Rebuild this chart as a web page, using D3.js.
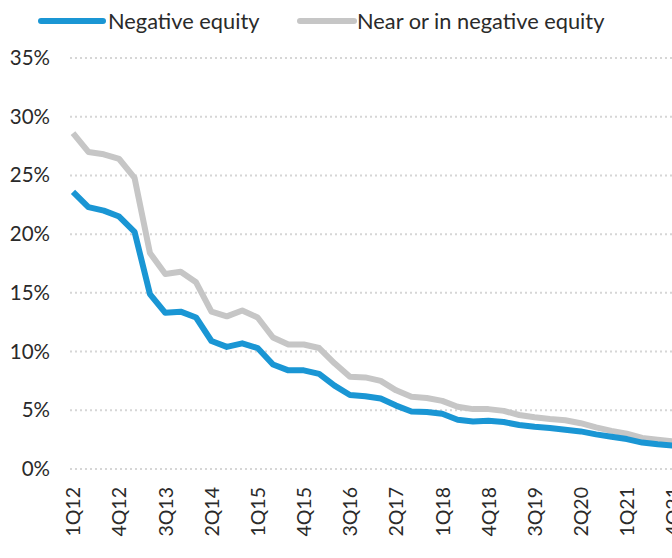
<!DOCTYPE html>
<html>
<head>
<meta charset="utf-8">
<script src="https://cdn.jsdelivr.net/npm/d3@7"></script>
<style>
  html, body { margin: 0; padding: 0; background: #fff; overflow: hidden; }
  svg { display: block; font-family: Lato, "Open Sans", sans-serif; }
</style>
</head>
<body>
<svg id="chart" width="672" height="558"></svg>
<script>
// Quarterly share of mortgaged properties, 1Q12 to 4Q21
const quarters = [];
for (let y = 12; y <= 21; y++) for (let q = 1; q <= 4; q++) quarters.push(q + "Q" + y);

const negativeEquity = [
  23.6, 22.3, 22.0, 21.5, 20.2, 14.9, 13.3, 13.4, 12.9, 10.9,
  10.4, 10.7, 10.3, 8.9, 8.4, 8.4, 8.1, 7.1, 6.3, 6.2,
  6.0, 5.4, 4.9, 4.85, 4.7, 4.2, 4.05, 4.1, 4.0, 3.75,
  3.6, 3.5, 3.35, 3.2, 2.95, 2.75, 2.55, 2.25, 2.1, 2.0
];
const nearOrInNegativeEquity = [
  28.6, 27.0, 26.8, 26.4, 24.8, 18.4, 16.6, 16.8, 15.9, 13.4,
  13.0, 13.5, 12.9, 11.2, 10.6, 10.6, 10.3, 9.0, 7.85, 7.8,
  7.5, 6.7, 6.15, 6.05, 5.8, 5.3, 5.1, 5.1, 4.95, 4.6,
  4.4, 4.25, 4.15, 3.9, 3.55, 3.25, 3.0, 2.65, 2.5, 2.35
];
const yTicks = [0, 5, 10, 15, 20, 25, 30, 35];
const xTickLabels = quarters.filter((d, i) => i % 3 === 0);

const series = [
  { name: "Negative equity", values: negativeEquity, color: "#1a96d4" },
  { name: "Near or in negative equity", values: nearOrInNegativeEquity, color: "#c6c6c6" }
];

const textColor = "#2a2a2a";
const svg = d3.select("#chart");

const x = d3.scalePoint().domain(quarters).range([73, 673]);
const y = d3.scaleLinear().domain([0, 35]).range([469, 58]);

// Dotted horizontal gridlines
svg.append("g")
  .selectAll("line")
  .data(yTicks)
  .join("line")
  .attr("x1", 70).attr("x2", 700)
  .attr("y1", d => y(d)).attr("y2", d => y(d))
  .attr("stroke", "#d6d6d6")
  .attr("stroke-width", 2)
  .attr("stroke-dasharray", "2,3");

// Y axis labels
const yAxis = svg.append("g")
  .attr("transform", "translate(50,0)")
  .call(d3.axisLeft(y).tickValues(yTicks).tickFormat(d => d + "%").tickSize(0).tickPadding(0));
yAxis.select(".domain").remove();
yAxis.selectAll("text")
  .attr("font-family", "Lato, sans-serif")
  .attr("font-size", 20.5)
  .attr("fill", textColor);

// X axis labels (rotated)
const xAxis = svg.append("g")
  .attr("transform", "translate(0,487)")
  .call(d3.axisBottom(x).tickValues(xTickLabels).tickSize(0).tickPadding(0));
xAxis.select(".domain").remove();
xAxis.selectAll("text")
  .attr("font-family", "Lato, sans-serif")
  .attr("font-size", 19.5)
  .attr("fill", textColor)
  .attr("transform", "rotate(-90)")
  .attr("text-anchor", "end")
  .attr("x", 0)
  .attr("y", 0)
  .attr("dy", "0.35em");

// Lines (gray drawn first so blue sits on top)
const line = d3.line()
  .x((d, i) => x(quarters[i]))
  .y(d => y(d));

svg.append("g")
  .selectAll("path")
  .data(series.slice().reverse())
  .join("path")
  .attr("d", d => line(d.values))
  .attr("fill", "none")
  .attr("stroke", d => d.color)
  .attr("stroke-width", 6)
  .attr("stroke-linejoin", "round");

// Legend
const legendItems = [
  { s: series[0], x1: 41, x2: 103, tx: 108 },
  { s: series[1], x1: 300, x2: 354, tx: 357 }
];
const legend = svg.append("g");
legend.selectAll("line")
  .data(legendItems)
  .join("line")
  .attr("x1", d => d.x1).attr("x2", d => d.x2)
  .attr("y1", 21).attr("y2", 21)
  .attr("stroke", d => d.s.color)
  .attr("stroke-width", 6)
  .attr("stroke-linecap", "round");
legend.selectAll("text")
  .data(legendItems)
  .join("text")
  .attr("x", d => d.tx)
  .attr("y", 21)
  .attr("dy", "0.35em")
  .attr("font-size", 21.8)
  .attr("fill", textColor)
  .text(d => d.s.name);
</script>
</body>
</html>
